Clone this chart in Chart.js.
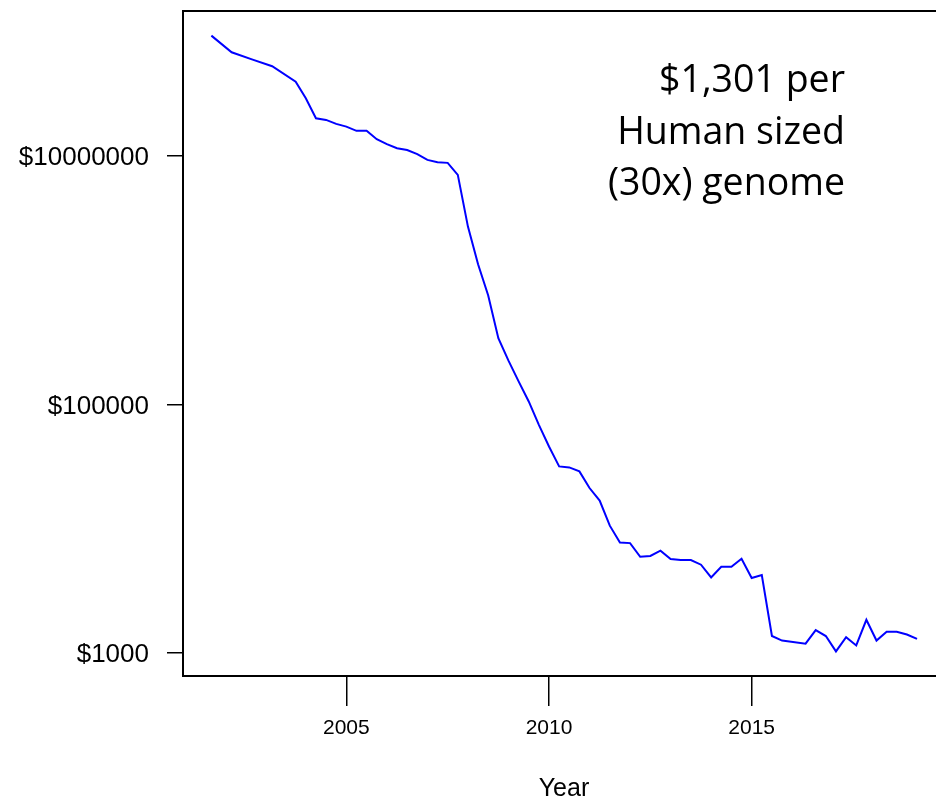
<!DOCTYPE html>
<html>
<head>
<meta charset="utf-8">
<script src="https://cdn.jsdelivr.net/npm/chart.js@4/dist/chart.umd.min.js"></script>
<style>
  html, body { margin: 0; padding: 0; background: #fff; overflow: hidden; }
  #wrap { width: 950px; height: 799px; }
</style>
</head>
<body>
<div id="wrap"><canvas id="c" width="950" height="799"></canvas></div>
<script>
// Sequencing cost per human-sized genome, quarterly (decimal year)
const quarterYears = [
  2001.67, 2002.17, 2002.67, 2003.17, 2003.75,
  2004.0, 2004.25, 2004.5, 2004.75,
  2005.0, 2005.25, 2005.5, 2005.75,
  2006.0, 2006.25, 2006.5, 2006.75,
  2007.0, 2007.25, 2007.5, 2007.75,
  2008.0, 2008.25, 2008.5, 2008.75,
  2009.0, 2009.25, 2009.5, 2009.75,
  2010.0, 2010.25, 2010.5, 2010.75,
  2011.0, 2011.25, 2011.5, 2011.75,
  2012.0, 2012.25, 2012.5, 2012.75,
  2013.0, 2013.25, 2013.5, 2013.75,
  2014.0, 2014.25, 2014.5, 2014.75,
  2015.0, 2015.25, 2015.5, 2015.75,
  2016.33, 2016.58, 2016.83,
  2017.08, 2017.33, 2017.58, 2017.83,
  2018.08, 2018.33, 2018.58, 2018.83,
  2019.08
];

const costPerGenome = [
  93500000, 68700000, 60200000, 53000000, 39800000,
  29300000, 20200000, 19600000, 18200000,
  17300000, 16000000, 16000000, 13700000,
  12500000, 11600000, 11200000, 10400000,
  9340000, 8950000, 8840000, 7070000,
  2710000, 1350000, 755000, 343000,
  226000, 154000, 106000, 68700,
  46000, 31800, 31200, 29000,
  21300, 16900, 10600, 7770,
  7670, 5960, 6040, 6660,
  5710, 5610, 5610, 5140,
  4060, 4950, 4950, 5740,
  4020, 4250, 1370, 1260,
  1190, 1530, 1370,
  1030, 1340, 1150, 1850,
  1260, 1480, 1480, 1410,
  1301
];

const yearTicks = [2005, 2010, 2015];
const costTicks = [1000, 100000, 10000000];
const noteLines = ['$1,301 per', 'Human sized', '(30x) genome'];
const xTitle = 'Year';

Chart.defaults.font.family = '"Liberation Sans", Arial, Helvetica, sans-serif';
Chart.defaults.color = '#000';

const points = quarterYears.map((yr, i) => ({ x: yr, y: costPerGenome[i] }));

// Box around the plotting region plus the right-aligned note
const framePlugin = {
  id: 'frame',
  afterDraw(chart) {
    const { ctx, chartArea: a } = chart;
    ctx.save();
    ctx.strokeStyle = '#000';
    ctx.lineWidth = 2;
    ctx.strokeRect(a.left, a.top, a.right - a.left, a.bottom - a.top);
    ctx.fillStyle = '#000';
    ctx.font = '37.5px "Open Sans", "Noto Sans", sans-serif';
    ctx.textAlign = 'right';
    ctx.textBaseline = 'alphabetic';
    noteLines.forEach((t, i) => ctx.fillText(t, 845, 92 + i * 51.7));
    ctx.restore();
  }
};

new Chart(document.getElementById('c'), {
  type: 'line',
  data: {
    datasets: [{
      data: points,
      borderColor: '#0000ff',
      borderWidth: 2,
      pointRadius: 0,
      tension: 0,
      fill: false
    }]
  },
  options: {
    responsive: false,
    animation: false,
    devicePixelRatio: 1,
    layout: { padding: { left: 0, top: 11, right: 5, bottom: 0 } },
    plugins: { legend: { display: false }, tooltip: { enabled: false } },
    scales: {
      x: {
        type: 'linear',
        min: 2000.97,
        max: 2019.77,
        afterBuildTicks: s => { s.ticks = yearTicks.map(v => ({ value: v })); },
        afterFit: s => { s.height = 123; s.paddingLeft = 0; s.paddingRight = 0; },
        grid: { drawOnChartArea: false, drawTicks: true, tickLength: 30, color: '#000', lineWidth: 1.5 },
        border: { display: false },
        ticks: {
          autoSkip: false,
          maxRotation: 0,
          padding: 10,
          font: { size: 21 },
          callback: v => String(v)
        },
        title: {
          display: true,
          text: xTitle,
          font: { size: 25, lineHeight: 0.8 },
          padding: { top: 0, bottom: 0 }
        }
      },
      y: {
        type: 'logarithmic',
        min: 653,
        max: 147600000,
        afterBuildTicks: s => { s.ticks = costTicks.map(v => ({ value: v })); },
        afterFit: s => { s.width = 183; s.paddingTop = 0; s.paddingBottom = 0; },
        grid: { drawOnChartArea: false, drawTicks: true, tickLength: 16, color: '#000', lineWidth: 1.5 },
        border: { display: false },
        ticks: {
          autoSkip: false,
          padding: 18,
          labelOffset: 2,
          font: { size: 26 },
          callback: v => '$' + v
        }
      }
    }
  },
  plugins: [framePlugin]
});
</script>
</body>
</html>
